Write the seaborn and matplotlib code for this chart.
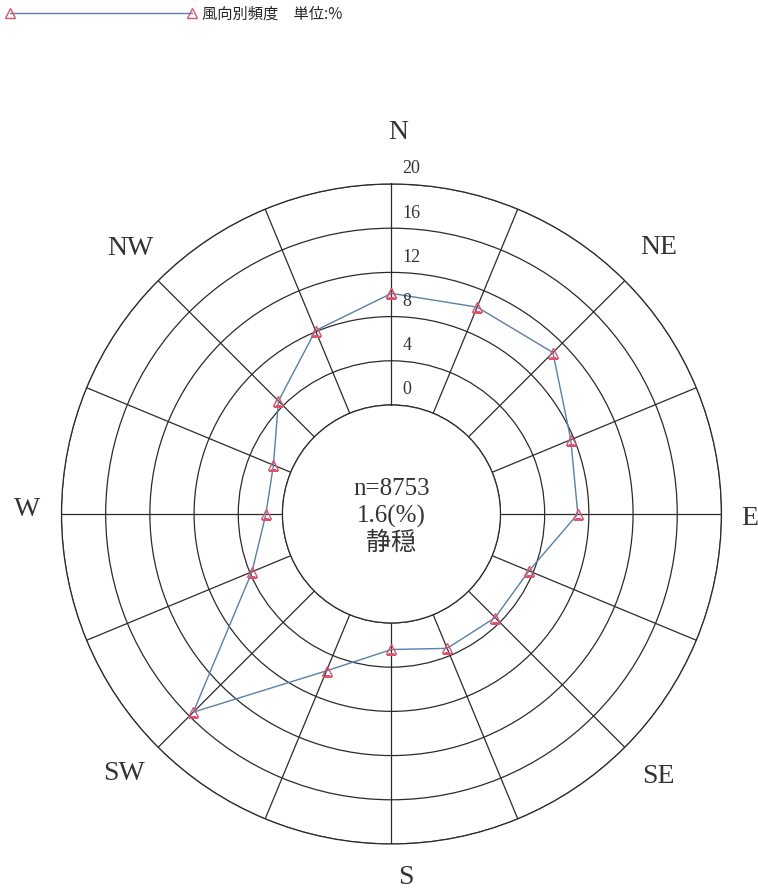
import numpy as np
import pandas as pd
import matplotlib
matplotlib.use('Agg')
import matplotlib.pyplot as plt
import seaborn as sns

# wind direction frequency (%)
directions = ['N', 'NNE', 'NE', 'ENE', 'E', 'ESE', 'SE', 'SSE',
              'S', 'SSW', 'SW', 'WSW', 'W', 'WNW', 'NW', 'NNW']
freq = [10.1, 10.4, 10.8, 7.7, 7.0, 3.6, 3.4, 3.3,
        2.4, 5.5, 15.5, 3.8, 1.5, 1.7, 4.6, 8.1]
rings = [0, 4, 8, 12, 16, 20]
calm_n = 8753
calm_pct = 1.6

# compass labels: name, bearing (deg), radius (data units)
label_names = ['N', 'NE', 'E', 'SE', 'S', 'SW', 'W', 'NW']
label_bearing = [1, 45, 90.5, 134.4, 177.7, 226, 270.8, 315.6]
label_r = [24.8, 24.4, 22.6, 24.0, 23.0, 23.8, 23.1, 23.9]

sns.set_style('white')
plt.rcParams['font.family'] = ['Liberation Serif', 'Noto Sans CJK JP']

fig = plt.figure(figsize=(7.58, 8.95), dpi=100)
ax = fig.add_axes([0.0811, 0.0559, 0.8707, 0.7374], projection='polar')

theta = np.deg2rad(np.arange(len(directions)) * 22.5)
df = pd.DataFrame({'theta': np.append(theta, 2 * np.pi),
                   'freq': freq + freq[:1]})

sns.lineplot(data=df, x='theta', y='freq', sort=False, estimator=None, ax=ax,
             color='#5a7fa8', linewidth=1.0, marker='^', markersize=6.5,
             markerfacecolor='none', markeredgecolor='#d9546c',
             markeredgewidth=1.0, label='風向別頻度　単位:%')

ax.set_theta_zero_location('N')
ax.set_theta_direction(-1)
ax.set_ylim(0, 20)
ax.set_rorigin(-9.864)
ax.set_xticks(theta)
ax.set_yticks(rings)
ax.set_xticklabels([])
ax.set_yticklabels([])
ax.set_xlabel('')
ax.set_ylabel('')
ax.grid(True, color='#2b2b2b', linewidth=0.9)
for name, sp in ax.spines.items():
    sp.set_visible(name == 'polar')
    sp.set_color('#2b2b2b')
    sp.set_linewidth(0.9)

# ring values along the N axis
for r in rings:
    ax.annotate(str(r), xy=(0, r), xytext=(11, 16), textcoords='offset pixels',
                ha='left', va='center', fontsize=13, color='#333333')

# compass labels
for name, b, r in zip(label_names, label_bearing, label_r):
    ax.text(np.deg2rad(b), r, name, ha='center', va='center', fontsize=20,
            color='#333333', clip_on=False)

# calm in the middle
center_lines = ['n=%d' % calm_n, '%.1f(%%)' % calm_pct, '静穏']
for txt, dy in zip(center_lines, [26, -1, -28]):
    ax.annotate(txt, xy=(0.5, 0.5), xycoords='axes fraction', xytext=(0, dy),
                textcoords='offset pixels', ha='center', va='center',
                fontsize=18, color='#333333')

ax.legend(loc='upper left', bbox_to_anchor=(5 / 758, 1 - 6 / 895),
          bbox_transform=fig.transFigure, frameon=False, numpoints=2,
          handlelength=12.55, handletextpad=0.35, borderpad=0, borderaxespad=0,
          prop={'family': ['Noto Sans CJK JP'], 'size': 11})

fig.savefig('out.png', dpi=100, facecolor='white')
